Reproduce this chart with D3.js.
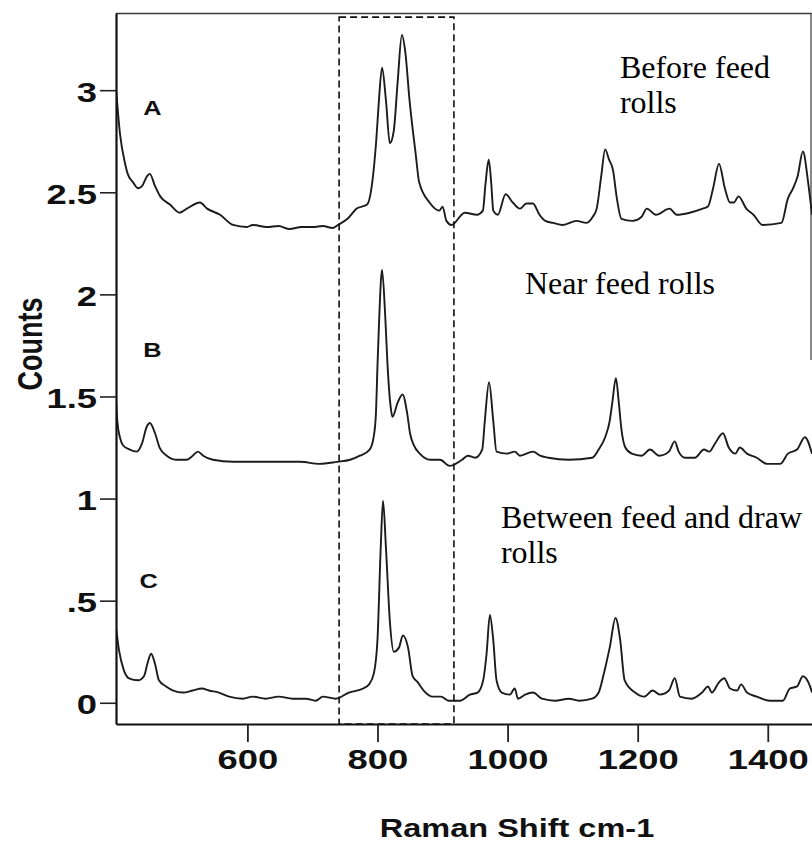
<!DOCTYPE html>
<html>
<head>
<meta charset="utf-8">
<script src="https://cdn.jsdelivr.net/npm/d3@7"></script>
<style>
  html, body { margin: 0; padding: 0; background: #fff; }
  svg { display: block; }
</style>
</head>
<body>
<svg id="chart" width="812" height="842"></svg>
<script>
// Raman spectra of a fibre at three positions along the draw line (offset vertically).
const shiftTicks = [600, 800, 1000, 1200, 1400];
const countTicks = [0, 0.5, 1, 1.5, 2, 2.5, 3];
const countTickLabels = ["0", ".5", "1", "1.5", "2", "2.5", "3"];

const traceNames = ["A", "B", "C"];
const traceNotes = [
  ["Before feed", "rolls"],
  ["Near feed rolls"],
  ["Between feed and draw", "rolls"]
];

// [Raman shift (cm-1), counts]
const spectrumA = [
  [398,3.01],[404,2.79],[412,2.64],[416,2.59],[424,2.55],[432,2.52],[438,2.53],[446,2.58],[450,2.59],
  [458,2.53],[466,2.48],[481,2.44],[496,2.40],[507,2.42],[527,2.45],[538,2.42],[558,2.39],[578,2.34],
  [599,2.33],[608,2.34],[630,2.33],[648,2.335],[665,2.32],[683,2.33],[701,2.33],[716,2.335],[731,2.325],
  [739,2.34],[754,2.37],[768,2.42],[784,2.44],[792,2.55],[798,2.75],[802,2.94],[807,3.11],[813,2.95],
  [819,2.74],[825,2.80],[831,3.04],[837.5,3.27],[843,3.18],[849,2.96],[859,2.68],[864,2.55],[880,2.45],
  [895,2.41],[900,2.43],[906,2.36],[914,2.34],[934,2.40],[953,2.39],[962,2.41],[966,2.54],[971,2.66],
  [975,2.54],[978,2.41],[985,2.39],[997,2.49],[1008,2.45],[1019,2.42],[1029,2.445],[1039,2.445],
  [1049,2.39],[1058,2.36],[1070,2.35],[1085,2.34],[1106,2.36],[1121,2.35],[1131,2.38],[1137,2.42],
  [1144,2.58],[1150,2.71],[1156,2.66],[1162,2.61],[1168,2.47],[1175,2.37],[1192,2.36],[1206,2.38],
  [1214,2.42],[1228,2.39],[1249,2.42],[1260,2.39],[1280,2.40],[1300,2.42],[1308,2.43],[1316,2.52],
  [1325,2.64],[1334,2.52],[1342,2.45],[1348,2.45],[1355,2.48],[1367,2.42],[1378,2.39],[1392,2.34],
  [1421,2.35],[1431,2.47],[1439,2.52],[1446,2.58],[1454,2.70],[1462,2.55],[1468,2.39]
];

const spectrumB = [
  [398,1.49],[400,1.38],[404,1.30],[409,1.26],[419,1.24],[430,1.23],[438,1.27],[445,1.35],[450,1.37],
  [458,1.32],[465,1.25],[476,1.21],[492,1.19],[507,1.19],[516,1.21],[524,1.23],[532,1.21],[547,1.19],
  [578,1.18],[608,1.18],[645,1.18],[681,1.18],[711,1.17],[738,1.18],[758,1.19],[773,1.21],[788,1.24],
  [794,1.30],[797.5,1.41],[800,1.65],[802.6,1.88],[807,2.12],[811.8,1.90],[815.5,1.65],[820.6,1.44],
  [823,1.40],[831,1.47],[838.5,1.51],[846,1.41],[850,1.32],[856,1.26],[865,1.22],[881,1.19],[896,1.19],
  [911,1.16],[930,1.19],[939,1.21],[950,1.20],[961,1.24],[965,1.38],[971.5,1.57],[978,1.38],[983,1.23],
  [999,1.22],[1011,1.23],[1019,1.21],[1039,1.23],[1050,1.21],[1063,1.20],[1094,1.19],[1130,1.20],
  [1140,1.24],[1150,1.30],[1157,1.38],[1161,1.47],[1166.5,1.59],[1171,1.47],[1175,1.34],[1181,1.25],
  [1191,1.22],[1206,1.21],[1219,1.24],[1233,1.21],[1248,1.23],[1257,1.28],[1263,1.23],[1273,1.20],
  [1288,1.20],[1302,1.24],[1310,1.23],[1319,1.27],[1331,1.32],[1340,1.25],[1350,1.22],[1357,1.25],
  [1368,1.22],[1383,1.20],[1399,1.17],[1419,1.17],[1431,1.22],[1445,1.24],[1457,1.30],[1468,1.22]
];

const spectrumC = [
  [398,0.37],[402.5,0.26],[410,0.16],[418,0.12],[432,0.11],[441,0.13],[447,0.20],[452,0.24],[458,0.19],
  [464,0.11],[475,0.08],[486,0.06],[501,0.05],[516,0.06],[530,0.07],[541,0.06],[556,0.05],[572,0.03],
  [593,0.02],[608,0.03],[628,0.02],[648,0.03],[670,0.02],[690,0.02],[705,0.01],[716,0.03],[736,0.02],
  [756,0.05],[778,0.07],[787,0.09],[794.5,0.145],[800,0.31],[805,0.76],[808.5,0.99],[813,0.76],
  [819,0.40],[825,0.25],[833,0.27],[839,0.33],[847,0.27],[854,0.13],[862,0.10],[871,0.06],[885,0.03],
  [897.5,0.03],[910,0.01],[927,0.01],[942,0.04],[954,0.05],[962.5,0.11],[967.7,0.24],[972.8,0.43],
  [977.9,0.31],[983,0.11],[991,0.05],[1003.5,0.04],[1011,0.07],[1016,0.02],[1027,0.04],[1039,0.05],
  [1053,0.02],[1073,0.01],[1094,0.02],[1110,0.01],[1130,0.02],[1140,0.05],[1147,0.13],[1157,0.27],
  [1166,0.415],[1173,0.31],[1180,0.11],[1196,0.05],[1210,0.03],[1223,0.06],[1234,0.04],[1248,0.06],
  [1257,0.12],[1265,0.03],[1283,0.02],[1299,0.05],[1308,0.08],[1314,0.05],[1325,0.10],[1333,0.12],
  [1342,0.07],[1353,0.06],[1359,0.09],[1368,0.05],[1383,0.03],[1403,0.01],[1423,0.01],[1434,0.07],
  [1445,0.08],[1454,0.13],[1465,0.08],[1468,0.05]
];

// Band region highlighted with a dashed box (cm-1)
const bandRegion = [741, 917.5];

const spectra = [spectrumA, spectrumB, spectrumC];

// ---- layout ----
const svg = d3.select("#chart");
const plotLeft = 116, plotRight = 812, plotTop = 13, plotBottom = 724;
const stretch = 1.3;   // wide sans lettering
const sans = "'Liberation Sans', Arial, Helvetica, sans-serif";
const serif = "'Liberation Serif', 'Times New Roman', serif";

const x = d3.scaleLinear().domain([398, 1468]).range([plotLeft, plotRight]);
const y = d3.scaleLinear().domain([-0.104, 3.378]).range([plotBottom, plotTop]);

svg.append("rect").attr("width", 812).attr("height", 842).attr("fill", "#fff");

svg.append("defs").append("clipPath").attr("id", "plot")
  .append("rect").attr("x", plotLeft).attr("y", plotTop)
  .attr("width", plotRight - plotLeft).attr("height", plotBottom - plotTop);

// frame: top edge and partial right edge
svg.append("line").attr("x1", plotLeft).attr("x2", plotRight).attr("y1", plotTop + 0.5).attr("y2", plotTop + 0.5)
  .attr("stroke", "#3a3a3a").attr("stroke-width", 1.6);
svg.append("line").attr("x1", plotRight - 1).attr("x2", plotRight - 1).attr("y1", plotTop).attr("y2", 360)
  .attr("stroke", "#555").attr("stroke-width", 1.4);

// spectra
const line = d3.line().x(d => x(d[0])).y(d => y(d[1])).curve(d3.curveMonotoneX);
svg.append("g").attr("clip-path", "url(#plot)")
  .selectAll("path").data(spectra).join("path")
  .attr("d", line)
  .attr("fill", "none")
  .attr("stroke", "#1c1c1c")
  .attr("stroke-width", 1.9)
  .attr("stroke-linejoin", "round");

// dashed band box
svg.append("rect")
  .attr("x", x(bandRegion[0])).attr("y", y(3.358))
  .attr("width", x(bandRegion[1]) - x(bandRegion[0]))
  .attr("height", plotBottom - y(3.358))
  .attr("fill", "none").attr("stroke", "#111").attr("stroke-width", 1.6)
  .attr("stroke-dasharray", "7,4");

// axes
const yAxis = d3.axisLeft(y).tickValues(countTicks)
  .tickFormat((d, i) => countTickLabels[i]).tickSize(16).tickSizeOuter(0);
const gy = svg.append("g").attr("transform", `translate(${plotLeft},0)`).call(yAxis);
gy.select(".domain").attr("stroke", "#111").attr("stroke-width", 2.2);
gy.selectAll(".tick line").attr("stroke", "#222").attr("stroke-width", 1.6);
gy.selectAll(".tick text")
  .attr("x", null).attr("dy", null)
  .attr("transform", `translate(-19,11) scale(${stretch},1)`)
  .attr("text-anchor", "end")
  .attr("fill", "#111")
  .style("font-family", sans).style("font-size", "28px").style("font-weight", "bold");

const xAxis = d3.axisBottom(x).tickValues(shiftTicks).tickFormat(d3.format("d"))
  .tickSize(18).tickSizeOuter(0);
const gx = svg.append("g").attr("transform", `translate(0,${plotBottom})`).call(xAxis);
gx.select(".domain").attr("stroke", "#111").attr("stroke-width", 2.2);
gx.selectAll(".tick line").attr("stroke", "#222").attr("stroke-width", 1.8);
gx.selectAll(".tick text")
  .attr("y", null).attr("dy", null)
  .attr("transform", `translate(0,45) scale(${stretch},1)`)
  .attr("text-anchor", "middle")
  .attr("fill", "#111")
  .style("font-family", sans).style("font-size", "28px").style("font-weight", "bold");

// axis titles
svg.append("text")
  .attr("transform", `translate(517,837) scale(${stretch},1)`)
  .attr("text-anchor", "middle").attr("fill", "#111")
  .style("font-family", sans).style("font-size", "25px").style("font-weight", "bold")
  .text("Raman Shift cm-1");

svg.append("text")
  .attr("transform", `translate(42,344) scale(${stretch},1) rotate(-90)`)
  .attr("text-anchor", "middle").attr("fill", "#111")
  .style("font-family", sans).style("font-size", "27px").style("font-weight", "bold")
  .text("Counts");

// trace letters
const letterPos = [[440, 2.878], [440, 1.693], [434, 0.562]];
traceNames.forEach((name, i) => {
  svg.append("text")
    .attr("transform", `translate(${x(letterPos[i][0])},${y(letterPos[i][1])}) scale(${stretch},1)`)
    .attr("fill", "#111")
    .style("font-family", sans).style("font-size", "19.5px").style("font-weight", "bold")
    .text(name);
});

// position notes
const notePos = [[1172.7, 3.059], [1026.6, 2.001], [989.7, 0.856]];
traceNotes.forEach((lines, i) => {
  const t = svg.append("text")
    .attr("x", x(notePos[i][0])).attr("y", y(notePos[i][1]))
    .attr("fill", "#000")
    .style("font-family", serif).style("font-size", "32px");
  lines.forEach((s, j) => {
    t.append("tspan").attr("x", x(notePos[i][0])).attr("dy", j === 0 ? 0 : 35).text(s);
  });
});
</script>
</body>
</html>
